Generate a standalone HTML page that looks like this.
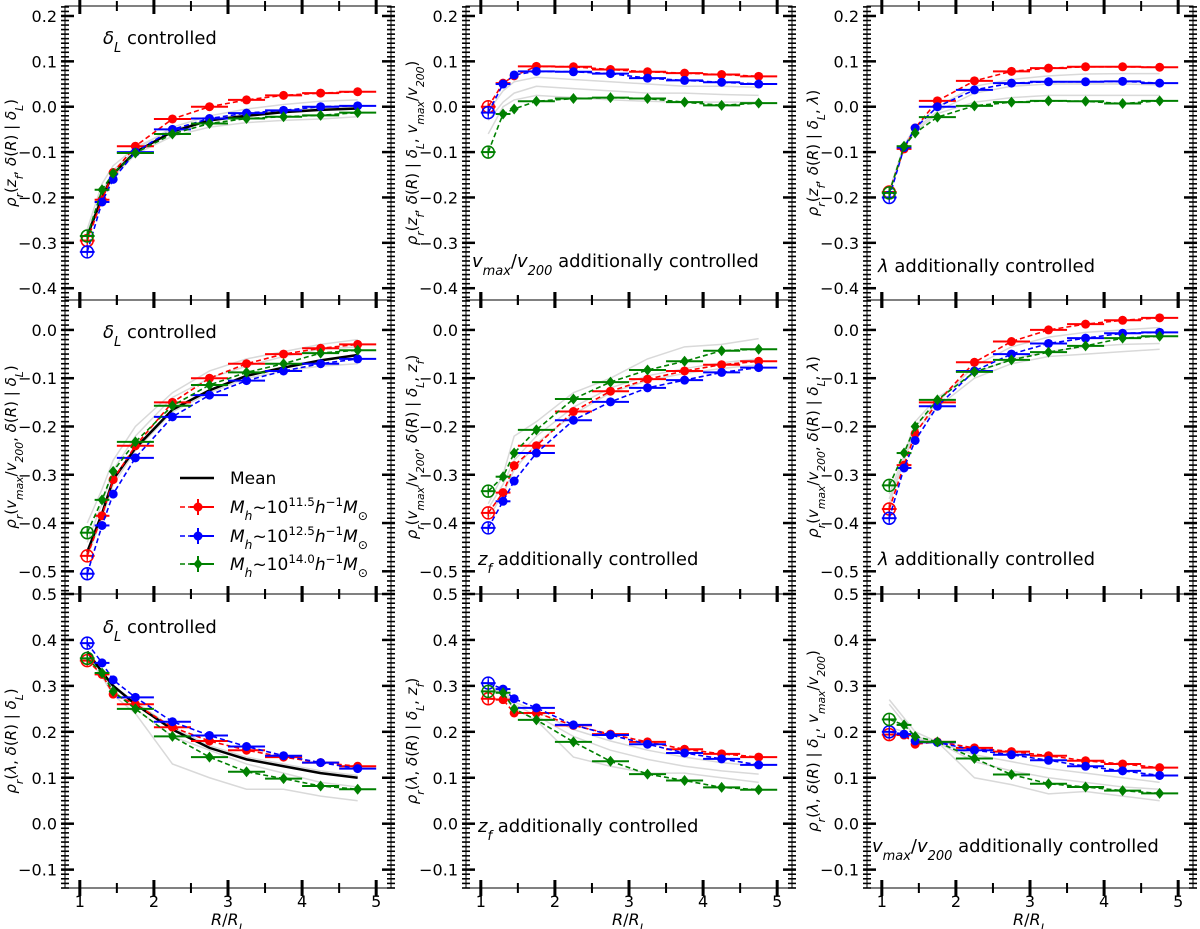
<!DOCTYPE html>
<html><head><meta charset="utf-8"><style>
html,body{margin:0;padding:0;background:#fff;}
svg{display:block;font-family:"DejaVu Sans","Liberation Sans",sans-serif;}
</style></head><body>
<svg id="fig" width="1200" height="929" viewBox="0 0 1200 929" xmlns="http://www.w3.org/2000/svg"></svg>
<script>
const xs = [1.1,1.3,1.45,1.75,2.25,2.75,3.25,3.75,4.25,4.75];
const xerr = [0.1,0.1,0.05,0.25,0.25,0.25,0.25,0.25,0.25,0.25];
const xTicks = [1,2,3,4,5];
const yTicksRow = [[0.2,0.1,0.0,-0.1,-0.2,-0.3,-0.4],[0.0,-0.1,-0.2,-0.3,-0.4,-0.5],[0.5,0.4,0.3,0.2,0.1,0.0,-0.1]];
const ylimRow = [[-0.426,0.222],[-0.547,0.062],[-0.14,0.50]];

const p11_red=[-0.295,-0.205,-0.145,-0.087,-0.027,0.0,0.015,0.025,0.03,0.033];
const p11_blue=[-0.32,-0.21,-0.16,-0.10,-0.05,-0.026,-0.014,-0.008,0.0,0.002];
const p11_green=[-0.285,-0.183,-0.147,-0.102,-0.06,-0.037,-0.026,-0.022,-0.019,-0.013];
const p11_mean=[-0.285,-0.2,-0.148,-0.1,-0.055,-0.03,-0.02,-0.012,-0.007,-0.004];
const p11_gray=[[-0.27,-0.17,-0.13,-0.09,-0.05,-0.03,-0.015,-0.008,-0.003,0.0],[-0.29,-0.2,-0.155,-0.105,-0.065,-0.045,-0.035,-0.03,-0.027,-0.022],[-0.28,-0.19,-0.14,-0.095,-0.045,-0.02,-0.005,0.005,0.012,0.015]];

const p12_red=[0.0,0.052,0.068,0.089,0.088,0.082,0.077,0.074,0.071,0.067];
const p12_blue=[-0.013,0.05,0.07,0.078,0.077,0.073,0.063,0.058,0.054,0.05];
const p12_green=[-0.1,-0.016,-0.005,0.012,0.018,0.02,0.018,0.01,0.003,0.008];
const p12_gray=[[-0.03,0.01,0.03,0.045,0.04,0.035,0.03,0.03,0.027,0.025],[-0.06,0.0,0.015,0.025,0.02,0.015,0.012,0.01,0.01,0.01],[-0.01,0.035,0.055,0.065,0.06,0.055,0.05,0.045,0.045,0.043]];

const p13_red=[-0.188,-0.093,-0.047,0.013,0.057,0.078,0.085,0.088,0.088,0.087];
const p13_blue=[-0.2,-0.09,-0.047,0.0,0.037,0.052,0.055,0.055,0.056,0.052];
const p13_green=[-0.19,-0.087,-0.058,-0.023,0.002,0.01,0.013,0.012,0.007,0.013];
const p13_gray=[[-0.19,-0.09,-0.05,-0.01,0.03,0.045,0.05,0.05,0.05,0.048],[-0.19,-0.09,-0.055,-0.015,0.01,0.02,0.025,0.025,0.025,0.025],[-0.185,-0.085,-0.045,0.0,0.045,0.06,0.068,0.072,0.073,0.073]];

const p21_red=[-0.468,-0.385,-0.31,-0.24,-0.15,-0.1,-0.07,-0.05,-0.038,-0.03];
const p21_blue=[-0.505,-0.405,-0.34,-0.265,-0.18,-0.135,-0.105,-0.085,-0.07,-0.06];
const p21_green=[-0.42,-0.352,-0.293,-0.232,-0.157,-0.114,-0.088,-0.07,-0.048,-0.042];
const p21_mean=[-0.46,-0.38,-0.31,-0.245,-0.165,-0.125,-0.095,-0.078,-0.063,-0.052];
const p21_gray=[[-0.44,-0.36,-0.29,-0.22,-0.14,-0.1,-0.075,-0.055,-0.04,-0.035],[-0.47,-0.39,-0.32,-0.25,-0.17,-0.13,-0.1,-0.085,-0.075,-0.07],[-0.4,-0.33,-0.27,-0.2,-0.13,-0.085,-0.06,-0.045,-0.03,-0.02]];

const p22_red=[-0.379,-0.337,-0.281,-0.24,-0.169,-0.127,-0.102,-0.085,-0.072,-0.065];
const p22_blue=[-0.41,-0.355,-0.313,-0.255,-0.187,-0.149,-0.12,-0.104,-0.088,-0.078];
const p22_green=[-0.334,-0.304,-0.255,-0.207,-0.143,-0.108,-0.083,-0.065,-0.043,-0.04];
const p22_gray=[[-0.36,-0.3,-0.22,-0.19,-0.13,-0.1,-0.06,-0.035,-0.03,-0.018],[-0.37,-0.32,-0.27,-0.22,-0.16,-0.12,-0.095,-0.08,-0.068,-0.06],[-0.39,-0.34,-0.29,-0.235,-0.175,-0.13,-0.105,-0.09,-0.08,-0.072]];

const p23_red=[-0.371,-0.28,-0.215,-0.15,-0.067,-0.024,0.0,0.012,0.02,0.025];
const p23_blue=[-0.39,-0.286,-0.229,-0.158,-0.085,-0.05,-0.028,-0.017,-0.007,-0.005];
const p23_green=[-0.322,-0.255,-0.2,-0.145,-0.087,-0.062,-0.046,-0.033,-0.017,-0.013];
const p23_gray=[[-0.34,-0.26,-0.19,-0.14,-0.09,-0.06,-0.045,-0.035,-0.03,-0.028],[-0.35,-0.27,-0.2,-0.15,-0.075,-0.035,-0.015,-0.005,0.0,0.005],[-0.36,-0.27,-0.21,-0.16,-0.1,-0.07,-0.055,-0.05,-0.045,-0.04]];

const p31_red=[0.355,0.325,0.282,0.26,0.21,0.18,0.16,0.145,0.133,0.125];
const p31_blue=[0.393,0.35,0.313,0.275,0.222,0.192,0.168,0.148,0.133,0.12];
const p31_green=[0.36,0.328,0.288,0.25,0.19,0.145,0.113,0.098,0.082,0.075];
const p31_mean=[0.375,0.33,0.3,0.26,0.205,0.165,0.14,0.125,0.11,0.1];
const p31_gray=[[0.36,0.32,0.28,0.24,0.13,0.1,0.075,0.075,0.06,0.05],[0.37,0.33,0.29,0.25,0.19,0.16,0.13,0.11,0.09,0.08],[0.37,0.33,0.3,0.265,0.21,0.17,0.145,0.13,0.115,0.105]];

const p32_red=[0.272,0.27,0.241,0.241,0.214,0.195,0.178,0.162,0.152,0.145];
const p32_blue=[0.306,0.293,0.272,0.252,0.215,0.193,0.173,0.154,0.141,0.128];
const p32_green=[0.288,0.285,0.25,0.226,0.178,0.136,0.108,0.094,0.079,0.074];
const p32_gray=[[0.3,0.28,0.25,0.225,0.145,0.125,0.11,0.11,0.1,0.09],[0.3,0.285,0.26,0.235,0.19,0.16,0.14,0.125,0.115,0.108],[0.3,0.29,0.265,0.245,0.205,0.18,0.16,0.145,0.133,0.125]];

const p33_red=[0.194,0.193,0.173,0.178,0.165,0.157,0.148,0.137,0.13,0.122];
const p33_blue=[0.2,0.195,0.18,0.177,0.16,0.15,0.138,0.125,0.115,0.105];
const p33_green=[0.227,0.215,0.19,0.178,0.142,0.107,0.087,0.08,0.072,0.066];
const p33_gray=[[0.27,0.23,0.2,0.178,0.1,0.085,0.065,0.07,0.06,0.05],[0.26,0.22,0.19,0.177,0.135,0.115,0.1,0.09,0.08,0.075],[0.21,0.2,0.185,0.177,0.15,0.135,0.12,0.11,0.1,0.09]];

const NS="http://www.w3.org/2000/svg";
const svg=document.getElementById('fig');
const colL=[65,466,867], rowT=[6,300,594], PW=326, PH=294;
const XMIN=0.8, XMAX=5.2;
function el(tag,attrs,parent){const e=document.createElementNS(NS,tag);for(const k in attrs)e.setAttribute(k,attrs[k]);(parent||svg).appendChild(e);return e;}
function sub(b,s){return `<tspan font-style="italic">${b}</tspan><tspan font-style="italic" font-size="72%" baseline-shift="sub">${s}</tspan>`;}
const it=t=>`<tspan font-style="italic">${t}</tspan>`;
const dL=sub('δ','L'), zf=sub('z','f'), vv=sub('v','max')+'/'+sub('v','200'), rr=sub('ρ','r');
const ylabels=[
 [rr+'('+zf+', '+it('δ')+'('+it('R')+') | '+dL+')', rr+'('+zf+', '+it('δ')+'('+it('R')+') | '+dL+', '+vv+')', rr+'('+zf+', '+it('δ')+'('+it('R')+') | '+dL+', '+it('λ')+')'],
 [rr+'('+vv+', '+it('δ')+'('+it('R')+') | '+dL+')', rr+'('+vv+', '+it('δ')+'('+it('R')+') | '+dL+', '+zf+')', rr+'('+vv+', '+it('δ')+'('+it('R')+') | '+dL+', '+it('λ')+')'],
 [rr+'('+it('λ')+', '+it('δ')+'('+it('R')+') | '+dL+')', rr+'('+it('λ')+', '+it('δ')+'('+it('R')+') | '+dL+', '+zf+')', rr+'('+it('λ')+', '+it('δ')+'('+it('R')+') | '+dL+', '+vv+')']];
const annots=[
 [[103,44,dL+' controlled'],[472,267,vv+' additionally controlled'],[878,272,it('λ')+' additionally controlled']],
 [[103,338,dL+' controlled'],[478,565,zf+' additionally controlled'],[878,565,it('λ')+' additionally controlled']],
 [[103,633,dL+' controlled'],[478,832,zf+' additionally controlled'],[872,852,vv+' additionally controlled']]];
const data=[[ [p11_red,p11_blue,p11_green,p11_mean,p11_gray],[p12_red,p12_blue,p12_green,null,p12_gray],[p13_red,p13_blue,p13_green,null,p13_gray] ],
 [ [p21_red,p21_blue,p21_green,p21_mean,p21_gray],[p22_red,p22_blue,p22_green,null,p22_gray],[p23_red,p23_blue,p23_green,null,p23_gray] ],
 [ [p31_red,p31_blue,p31_green,p31_mean,p31_gray],[p32_red,p32_blue,p32_green,null,p32_gray],[p33_red,p33_blue,p33_green,null,p33_gray] ]];
const cols=['#ff0000','#0000ff','#008000'];
const snames=['red','blue','green'];

for(let r=0;r<3;r++)for(let c=0;c<3;c++){
  const L=colL[c],T=rowT[r],[y0,y1]=ylimRow[r];
  const X=v=>L+(v-XMIN)/(XMAX-XMIN)*PW;
  const Y=v=>T+(y1-v)/(y1-y0)*PH;
  const g=el('g',{});
  
  
  const [rd,bl,gr,mn,grays]=data[r][c];
  const yl=el('text',{x:0,y:0,'text-anchor':'middle','font-size':15,transform:`translate(${L-49},${T+PH/2}) rotate(-90)`},g);
  yl.innerHTML=ylabels[r][c];
  
  const cid='clip'+r+c;
  const cp=el('clipPath',{id:cid},g); el('rect',{x:L,y:T,width:PW,height:PH},cp);
  const plot=el('g',{'clip-path':`url(#${cid})`},g);
  grays.forEach((arr,i)=>{const p=el('polyline',{points:arr.map((v,k)=>X(xs[k])+','+Y(v)).join(' '),fill:'none',stroke:'#d9d9d9','stroke-width':1.5},plot);
    });
  if(mn){const p=el('polyline',{points:mn.map((v,k)=>X(xs[k])+','+Y(v)).join(' '),fill:'none',stroke:'#000','stroke-width':2.5},plot);
    }
  [rd,bl,gr].forEach((arr,si)=>{
    const col=cols[si];
    const sg=el('g',{},plot);
    
    
    el('polyline',{points:arr.map((v,k)=>X(xs[k])+','+Y(v)).join(' '),fill:'none',stroke:col,'stroke-width':1.6,'stroke-dasharray':'5,3'},sg);
    arr.forEach((v,k)=>{
      const x=X(xs[k]),y=Y(v);
      el('line',{x1:X(xs[k]-xerr[k]),x2:X(xs[k]+xerr[k]),y1:y,y2:y,stroke:col,'stroke-width':2},sg);
      el('line',{x1:x,x2:x,y1:y-3,y2:y+3,stroke:col,'stroke-width':1.5},sg);
      let m;
      if(k===0){m=el('circle',{cx:x,cy:y,r:6,fill:'none',stroke:col,'stroke-width':1.5},sg);
        el('line',{x1:x,x2:x,y1:y-6,y2:y+6,stroke:col,'stroke-width':1.2},sg);}
      else if(si===2){m=el('path',{d:`M${x},${y-5.5}L${x+4.5},${y}L${x},${y+5.5}L${x-4.5},${y}Z`,fill:col},sg);}
      else{m=el('circle',{cx:x,cy:y,r:4.5,fill:col},sg);}
      
      
    });
  });
  const fr=el('rect',{x:L,y:T,width:PW,height:PH,fill:'none',stroke:'#000','stroke-width':1},g);
  
  for(let i=Math.ceil(y0*100);i<=Math.floor(y1*100);i++){
    const y=Y(i/100), major=(i%10===0);
    if(major){
      el('line',{x1:L-4,x2:L+9,y1:y,y2:y,stroke:'#000','stroke-width':2.5},g);
      el('line',{x1:L+PW-9,x2:L+PW+4,y1:y,y2:y,stroke:'#000','stroke-width':2.5},g);
    } else {
      el('line',{x1:L-4,x2:L+4,y1:y,y2:y,stroke:'#000','stroke-width':1.6},g);
      el('line',{x1:L+PW-4,x2:L+PW+4,y1:y,y2:y,stroke:'#000','stroke-width':1.6},g);
    }
  }
  yTicksRow[r].forEach(v=>{
    const t=el('text',{x:L-8,y:Y(v)+6,'text-anchor':'end','font-size':16,fill:'#000'},g);
    t.textContent=(v<-0.001?'\u2212':'')+Math.abs(v).toFixed(1);
    
  });
  for(let i=2;i<=10;i++){
    const v=i/2,x=X(v),major=(i%2===0),hl=major?8:5,w=major?3:2;
    [T,T+PH].forEach(yy=>el('line',{x1:x,x2:x,y1:yy-hl,y2:yy+hl,stroke:'#000','stroke-width':w},g));
  }
  if(r===2){
    xTicks.forEach(v=>{const t=el('text',{x:X(v),y:907,'text-anchor':'middle','font-size':16},g);t.textContent=v;
      });
    const xl=el('text',{x:L+163,y:925,'text-anchor':'middle','font-size':16},g);
    xl.innerHTML=it('R')+'/'+sub('R','L');
    
  }
  const an=annots[r][c];
  const at=el('text',{x:an[0],y:an[1],'font-size':18},g);
  at.innerHTML=an[2];
  
}
const lg=el('g',{});


const lrows=[[484,'#000',null,'Mean'],[513,'#ff0000','11.5'],[542,'#0000ff','12.5'],[570,'#008000','14.0']];
lrows.forEach((lr,i)=>{
  const y=lr[0]-6;
  const e=el('g',{},lg);
  
  
  if(i===0){el('line',{x1:180,x2:214,y1:y,y2:y,stroke:'#000','stroke-width':2.5},e);}
  else{el('line',{x1:180,x2:214,y1:y,y2:y,stroke:lr[1],'stroke-width':1.6,'stroke-dasharray':'5,3'},e);
    el('line',{x1:190,x2:214,y1:y,y2:y,stroke:lr[1],'stroke-width':2},e);
    el('line',{x1:198,x2:198,y1:y-8,y2:y+8,stroke:lr[1],'stroke-width':2},e);
    if(i===3)el('path',{d:`M198,${y-5.5}L202.5,${y}L198,${y+5.5}L193.5,${y}Z`,fill:lr[1]},e);
    else el('circle',{cx:198,cy:y,r:4.5,fill:lr[1]},e);}
  const t=el('text',{x:230,y:lr[0],'font-size':17},e);
  if(i===0)t.textContent='Mean';
  else t.innerHTML=sub('M','h')+'~10<tspan font-size="70%" baseline-shift="super">'+lr[2]+'</tspan>'+it('h')+'<tspan font-size="70%" baseline-shift="super">\u22121</tspan>'+sub('M','\u2299');
});
</script>
</body></html>
